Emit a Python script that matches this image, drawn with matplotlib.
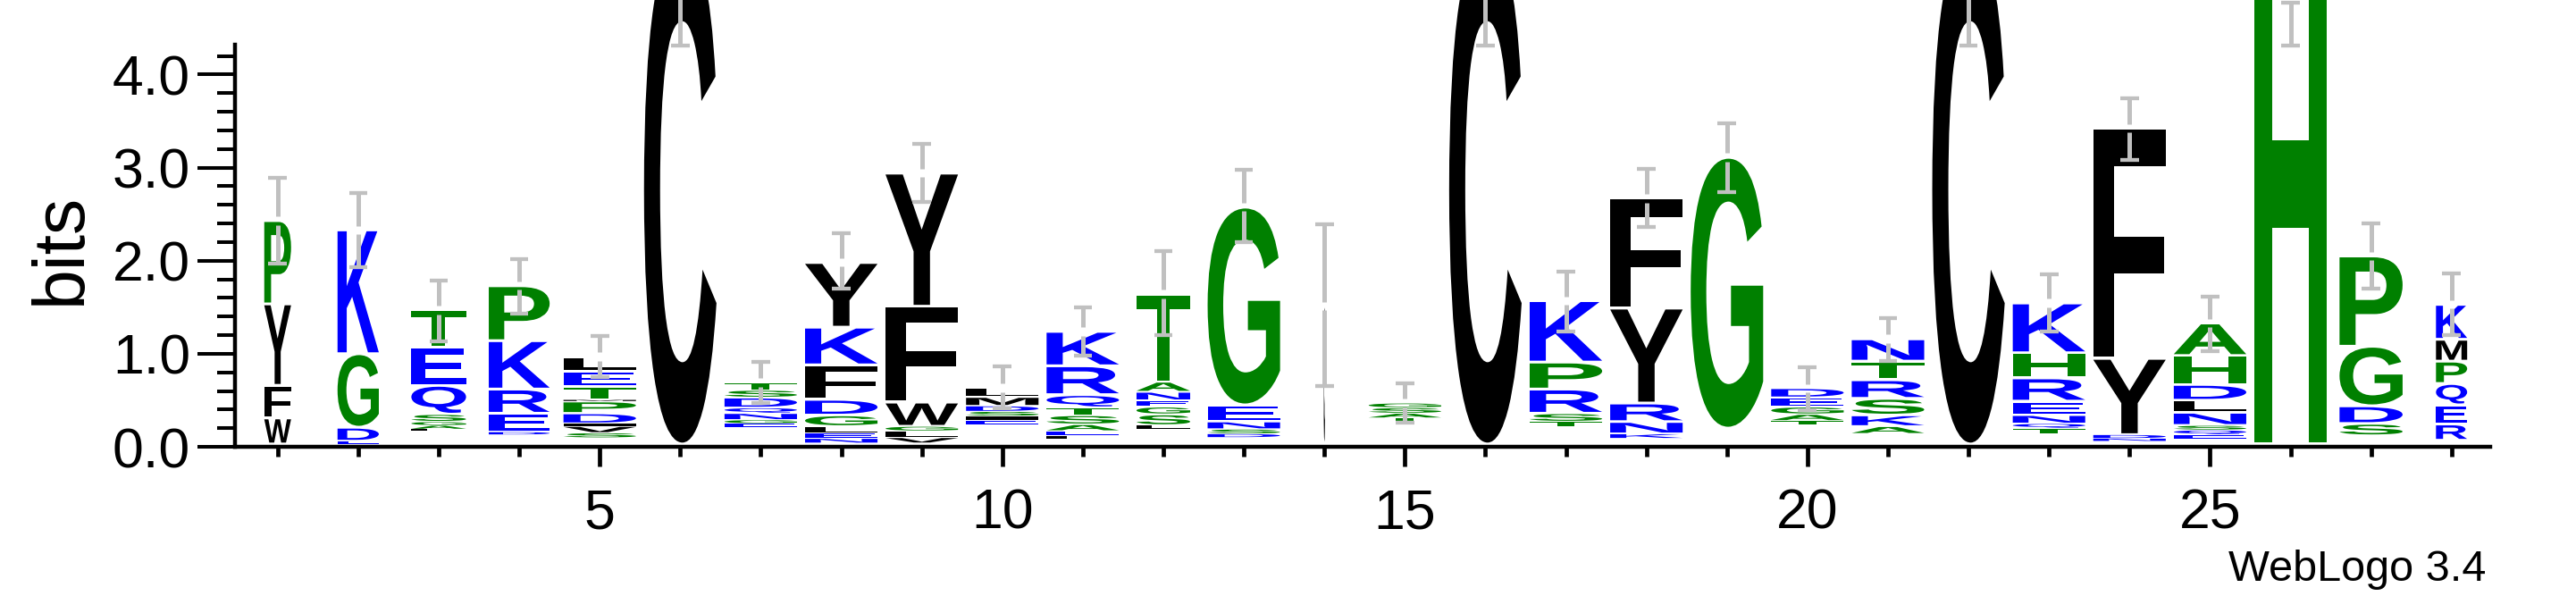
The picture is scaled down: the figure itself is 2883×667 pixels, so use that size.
import matplotlib
matplotlib.use("Agg")
import matplotlib.pyplot as plt
from matplotlib.textpath import TextPath
from matplotlib.patches import PathPatch
from matplotlib.font_manager import FontProperties
from matplotlib.transforms import Affine2D

plt.rcParams["font.family"] = "Liberation Sans"

# sequence logo data, one stack per position, letters listed bottom -> top
positions = list(range(1, 29))
stack_letters = [
    "WFYP", "EDGK", "LAGSQET", "DERKP", "SVIDPMTEL", "C", "EGNQDST",
    "NELGDFKY", "VLGWFY", "EISDML", "LEASTQRK", "LSGENAT", "DSNEG", "C",
    "TASG", "C", "TSRPK", "KNRYF", "G", "TAGED", "AKSRTN", "C",
    "TQNERHK", "NDYF", "EQSNLDHA", "H", "SDGP", "REQPMK",
]
stack_heights = [
    [0.28, 0.35, 0.875, 0.895],
    [0.03, 0.15, 0.79, 1.33],
    [0.02, 0.04, 0.04, 0.08, 0.31, 0.41, 0.40],
    [0.03, 0.20, 0.26, 0.52, 0.59],
    [0.054, 0.07, 0.03, 0.11, 0.13, 0.015, 0.14, 0.17, 0.155],
    [5.42],
    [0.04, 0.04, 0.07, 0.06, 0.11, 0.08, 0.08],
    [0.05, 0.06, 0.07, 0.12, 0.17, 0.37, 0.405, 0.695],
    [0.06, 0.07, 0.05, 0.26, 1.03, 1.43],
    [0.04, 0.05, 0.05, 0.06, 0.095, 0.098],
    [0.04, 0.05, 0.07, 0.10, 0.08, 0.14, 0.31, 0.37],
    [0.04, 0.12, 0.08, 0.07, 0.09, 0.11, 0.94],
    [0.04, 0.05, 0.08, 0.18, 2.125],
    [1.47],
    [0.03, 0.05, 0.06, 0.05],
    [5.42],
    [0.05, 0.09, 0.26, 0.29, 0.66],
    [0.05, 0.13, 0.20, 1.02, 1.18],
    [2.91],
    [0.04, 0.07, 0.08, 0.10, 0.10],
    [0.08, 0.12, 0.18, 0.20, 0.20, 0.24],
    [5.42],
    [0.06, 0.05, 0.09, 0.15, 0.25, 0.27, 0.535],
    [0.03, 0.04, 0.82, 2.47],
    [0.05, 0.05, 0.05, 0.14, 0.13, 0.17, 0.31, 0.35],
    [5.42],
    [0.13, 0.19, 0.64, 0.97],
    [0.175, 0.205, 0.23, 0.24, 0.235, 0.375],
]
stack_floor = [0.03, 0.03, 0.17, 0.13, 0.096, 0.03, 0.21, 0.04, 0.04, 0.24,
               0.08, 0.19, 0.10, 0.04, 0.28, 0.03, 0.22, 0.09, 0.20, 0.24,
               0.14, 0.03, 0.14, 0.06, 0.08, 0.03, 0.12, 0.07]
# fraction of a full stack width (narrow = many gaps)
stack_width = [0.37, 0.57, 0.755, 0.84, 1.0, 1.0, 1.0, 1.0, 1.0, 1.0,
               1.0, 0.74, 1.0, 0.02, 1.0, 1.0, 1.0, 1.0, 1.0, 1.0,
               1.0, 1.0, 1.0, 1.0, 1.0, 1.0, 0.87, 0.43]
err_lo = [1.967, 1.926, 1.13, 1.43, 0.746, 4.31, 0.473, 1.70, 2.63, 0.41,
          0.976, 1.20, 2.20, 0.65, 0.26, 4.31, 1.24, 2.36, 2.74, 0.39,
          0.92, 4.31, 1.24, 3.08, 1.03, 4.31, 1.70, 1.20]
err_hi = [2.886, 2.725, 1.79, 2.02, 1.19, 5.6, 0.909, 2.297, 3.25, 0.864,
          1.494, 2.10, 2.975, 2.39, 0.68, 5.6, 1.88, 2.985, 3.48, 0.857,
          1.385, 5.6, 1.85, 3.74, 1.615, 4.77, 2.40, 1.86]

# hydrophobicity colour scheme
color_groups = {
    "RKDENQ": "#0000ff",
    "SGHTAP": "#008000",
    "YVMCLFIW": "#000000",
}


def letter_color(ch):
    for group, col in color_groups.items():
        if ch in group:
            return col
    return "#000000"


letter_font = FontProperties(family="Liberation Sans", weight="bold")


def draw_letter(ax, ch, x, y, w, h, color):
    tp = TextPath((0, 0), ch, size=1, prop=letter_font)
    bb = tp.get_extents()
    t = (Affine2D().translate(-bb.x0, -bb.y0)
         .scale(w / bb.width, h / bb.height)
         .translate(x - w / 2, y))
    patch = PathPatch(t.transform_path(tp), facecolor=color,
                      edgecolor="none", clip_on=False, zorder=2)
    ax.add_patch(patch)


fig = plt.figure(figsize=(28.83, 6.67), dpi=100)
ax = fig.add_axes([263 / 2883, 167 / 667, 2524 / 2883, 450 / 667])

for i, pos in enumerate(positions):
    w = 0.9 * stack_width[i]
    y = stack_floor[i]
    for ch, h in zip(stack_letters[i], stack_heights[i]):
        pad = min(0.015, 0.1 * h)
        draw_letter(ax, ch, pos, y + pad, w, h - 2 * pad, letter_color(ch))
        y += h
    top = y

    # error bar, broken around the stack top
    lo, hi = err_lo[i], err_hi[i]
    gap = 0.045
    bar = dict(color="#c0c0c0", lw=3.6, solid_capstyle="butt",
               zorder=3, clip_on=False)
    if lo < top < hi:
        ax.plot([pos, pos], [lo, top - gap], **bar)
        ax.plot([pos, pos], [top + gap, hi], **bar)
    else:
        ax.plot([pos, pos], [lo, hi], **bar)
    cap = dict(color="#c0c0c0", lw=3.1, solid_capstyle="butt",
               zorder=3, clip_on=False)
    ax.plot([pos - 0.115, pos + 0.115], [lo, lo], **cap)
    ax.plot([pos - 0.115, pos + 0.115], [hi, hi], **cap)

ax.set_xlim(0.47, 28.48)
ax.set_ylim(0, 4.32)

for side in ["top", "right"]:
    ax.spines[side].set_visible(False)
for side in ["left", "bottom"]:
    ax.spines[side].set_linewidth(3.2)

ax.set_xticks([5, 10, 15, 20, 25])
ax.set_xticklabels(["5", "10", "15", "20", "25"])
ax.set_xticks(positions, minor=True)
ax.set_yticks([0, 1, 2, 3, 4])
ax.set_yticklabels(["0.0", "1.0", "2.0", "3.0", "4.0"])
ax.set_yticks([0.2 * k for k in range(22)], minor=True)

ax.tick_params(axis="y", which="major", length=30, width=2.9, labelsize=45, pad=6)
ax.tick_params(axis="y", which="minor", length=14.4, width=2.9)
ax.tick_params(axis="x", which="major", length=16, width=3.4, labelsize=45, pad=17)
ax.tick_params(axis="x", which="minor", length=8, width=3.4)

fig.text(69 / 2883, 1 - 278 / 667, "bits", rotation=90, ha="center",
         va="center", fontsize=58)
fig.text(2782 / 2883, 30 / 667, "WebLogo 3.4", ha="right", va="center",
         fontsize=35)

fig.savefig("out.png", dpi=100)
